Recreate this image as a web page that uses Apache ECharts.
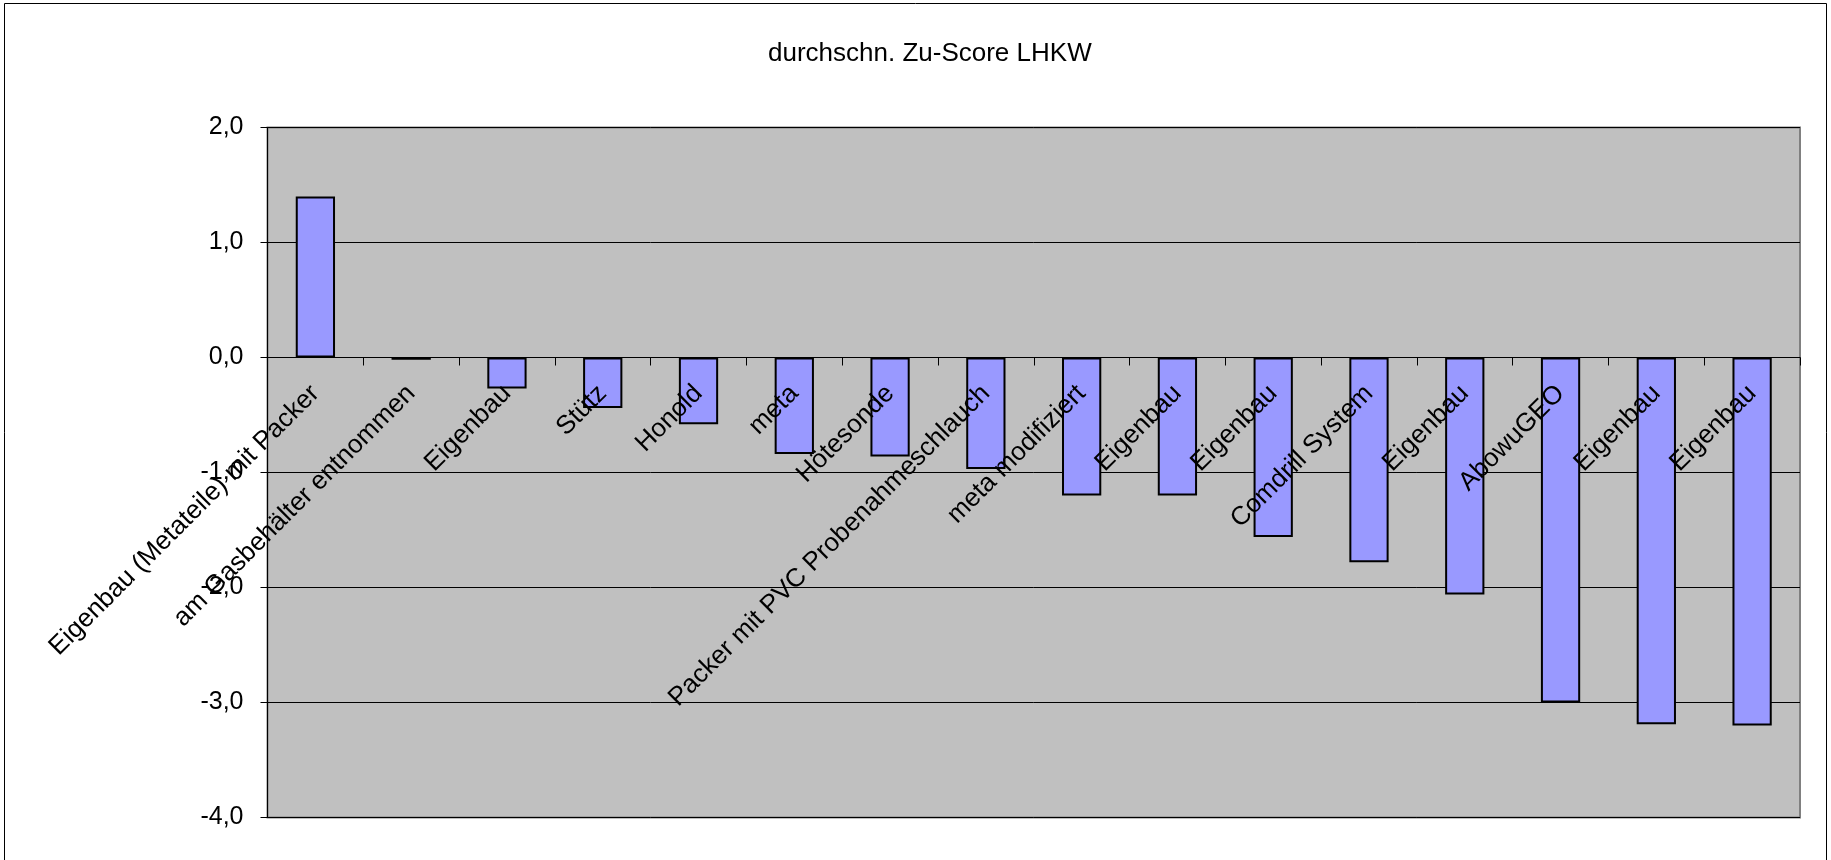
<!DOCTYPE html>
<html>
<head>
<meta charset="utf-8">
<title>durchschn. Zu-Score LHKW</title>
<script src="https://cdn.jsdelivr.net/npm/echarts@6/dist/echarts.min.js"></script>
<style>
  html, body { margin: 0; padding: 0; background: #fff; }
  #chart { width: 1831px; height: 860px; }
</style>
</head>
<body>
<div id="chart"></div>
<script>
// categories (Probenahmeverfahren)
const categories = [
  "Eigenbau (Metateile) mit Packer",
  "am Gasbehälter entnommen",
  "Eigenbau",
  "Stütz",
  "Honold",
  "meta",
  "Hötesonde",
  "Packer mit PVC Probenahmeschlauch",
  "meta modifiziert",
  "Eigenbau",
  "Eigenbau",
  "Comdrill System",
  "Eigenbau",
  "AbowuGEO",
  "Eigenbau",
  "Eigenbau",
];

// average z-score per category
const zscores = [
  1.40, -0.02, -0.27, -0.44, -0.58, -0.84, -0.86, -0.97,
  -1.20, -1.20, -1.56, -1.78, -2.06, -3.00, -3.19, -3.20,
];

// y axis range
const y_min = -4;
const y_max = 2;
const y_step = 1;

const font = "'Liberation Sans', Arial, sans-serif";

// plot area
const grid_top = 127.5;
const grid_bottom = 42.5;
const plot_h = 860 - grid_top - grid_bottom;
// move category axis (line, ticks and labels) up to the zero line
const zero_offset = -plot_h * (0 - y_min) / (y_max - y_min);

const chart = echarts.init(document.getElementById("chart"));

chart.setOption({
  backgroundColor: "#ffffff",
  animation: false,
  title: {
    text: "durchschn. Zu-Score LHKW",
    left: 763,
    top: 36,
    textStyle: { color: "#000", fontSize: 26, fontWeight: "normal", fontFamily: font },
  },
  // outer chart frame
  graphic: [
    {
      type: "rect",
      shape: { x: 4.5, y: 3.5, width: 1822, height: 900 },
      style: { fill: "none", stroke: "#000", lineWidth: 1 },
      silent: true,
    },
  ],
  grid: {
    left: 267.5,
    right: 31,
    top: grid_top,
    bottom: grid_bottom,
    containLabel: false,
    outerBoundsMode: "none",
    show: true,
    backgroundColor: "#c0c0c0",
    borderColor: "#808080",
    borderWidth: 2,
  },
  xAxis: {
    type: "category",
    data: categories,
    boundaryGap: true,
    offset: zero_offset,
    z: 5,
    axisLine: { onZero: false, lineStyle: { color: "#000", width: 1 } },
    axisTick: { show: true, length: 8, lineStyle: { color: "#000" } },
    axisLabel: {
      interval: 0,
      rotate: 45,
      margin: 32,
      color: "#000",
      fontSize: 26,
      fontFamily: font,
    },
    splitLine: { show: false },
  },
  yAxis: {
    type: "value",
    min: y_min,
    max: y_max,
    interval: y_step,
    axisLine: { show: true, onZero: false, lineStyle: { color: "#000", width: 1 } },
    axisTick: { show: true, length: 7, lineStyle: { color: "#000" } },
    axisLabel: {
      margin: 24,
      color: "#000",
      fontSize: 25,
      fontFamily: font,
      formatter: (v) => v.toFixed(1).replace(".", ","),
    },
    splitLine: { show: true, lineStyle: { color: "#000", width: 1 } },
  },
  series: [
    {
      name: "durchschn. Zu-Score LHKW",
      type: "bar",
      data: zscores,
      barWidth: "41%",
      itemStyle: { color: "#9999ff", borderColor: "#000", borderWidth: 2 },
    },
  ],
});
</script>
</body>
</html>
